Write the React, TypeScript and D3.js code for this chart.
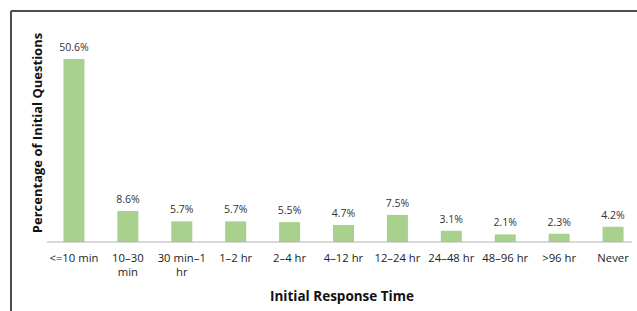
import React, { useEffect, useRef } from "react";
import * as d3 from "d3";

// categories (line breaks as in the original figure)
const categories = [
  "<=10 min",
  "10–30\nmin",
  "30 min–1\nhr",
  "1–2 hr",
  "2–4 hr",
  "4–12 hr",
  "12–24 hr",
  "24–48 hr",
  "48–96 hr",
  ">96 hr",
  "Never",
];
const percentages = [50.6, 8.6, 5.7, 5.7, 5.5, 4.7, 7.5, 3.1, 2.1, 2.3, 4.2];

const W = 637;
const H = 311;
const FONT = "'Open Sans', 'DejaVu Sans', sans-serif";

const App: React.FC = () => {
  const ref = useRef<SVGSVGElement>(null);

  useEffect(() => {
    const svg = d3.select(ref.current);
    svg.selectAll("*").remove();

    const baseY = 242;
    const x = d3.scaleBand<string>().domain(categories).range([47, 640]).paddingInner(0.61).paddingOuter(0.305);
    const y = d3.scaleLinear().domain([0, 50.6]).range([baseY, 59]);

    // frame (top and left only)
    svg.append("line").attr("x1", 11).attr("x2", W).attr("y1", 11).attr("y2", 11)
      .attr("stroke", "#4d4d4d").attr("stroke-width", 2);
    svg.append("line").attr("x1", 11).attr("x2", 11).attr("y1", 11).attr("y2", H)
      .attr("stroke", "#4d4d4d").attr("stroke-width", 2);

    // bars
    svg.selectAll(".bar")
      .data(percentages)
      .enter()
      .append("rect")
      .attr("class", "bar")
      .attr("x", (_d, i) => x(categories[i])!)
      .attr("y", (d) => y(d))
      .attr("width", x.bandwidth())
      .attr("height", (d) => baseY - y(d))
      .attr("fill", "#a9d18e");

    // value labels
    svg.selectAll(".val")
      .data(percentages)
      .enter()
      .append("text")
      .attr("class", "val")
      .attr("x", (_d, i) => x(categories[i])! + x.bandwidth() / 2)
      .attr("y", (d) => y(d) - 8)
      .attr("text-anchor", "middle")
      .attr("font-family", FONT)
      .attr("font-size", 10.5)
      .attr("fill", "#333")
      .text((d) => d.toFixed(1) + "%");

    // axis line
    svg.append("line").attr("x1", 47).attr("x2", 632).attr("y1", baseY).attr("y2", baseY)
      .attr("stroke", "#b3b3b3").attr("stroke-width", 1.2);

    // tick labels
    const ticks = svg.selectAll(".tick")
      .data(categories)
      .enter()
      .append("text")
      .attr("class", "tick")
      .attr("x", (d) => x(d)! + x.bandwidth() / 2)
      .attr("y", 262)
      .attr("text-anchor", "middle")
      .attr("font-family", FONT)
      .attr("font-size", 11.3)
      .attr("fill", "#222");
    ticks.each(function (d) {
      const t = d3.select(this);
      d.split("\n").forEach((line, i) => {
        t.append("tspan")
          .attr("x", x(d)! + x.bandwidth() / 2)
          .attr("dy", i === 0 ? 0 : 14)
          .text(line);
      });
    });

    // axis titles
    svg.append("text")
      .attr("x", 342)
      .attr("y", 301)
      .attr("text-anchor", "middle")
      .attr("font-family", FONT)
      .attr("font-size", 13.5)
      .attr("font-weight", "bold")
      .attr("fill", "#111")
      .text("Initial Response Time");

    svg.append("text")
      .attr("transform", "translate(42,133) rotate(-90)")
      .attr("text-anchor", "middle")
      .attr("font-family", FONT)
      .attr("font-size", 13)
      .attr("font-weight", "bold")
      .attr("fill", "#111")
      .text("Percentage of Initial Questions");
  }, []);

  return (
    <div style={{ position: "absolute", left: 0, top: 0 }}>
      <svg ref={ref} width={W} height={H} style={{ display: "block", background: "#fff" }} />
    </div>
  );
};

export default App;
